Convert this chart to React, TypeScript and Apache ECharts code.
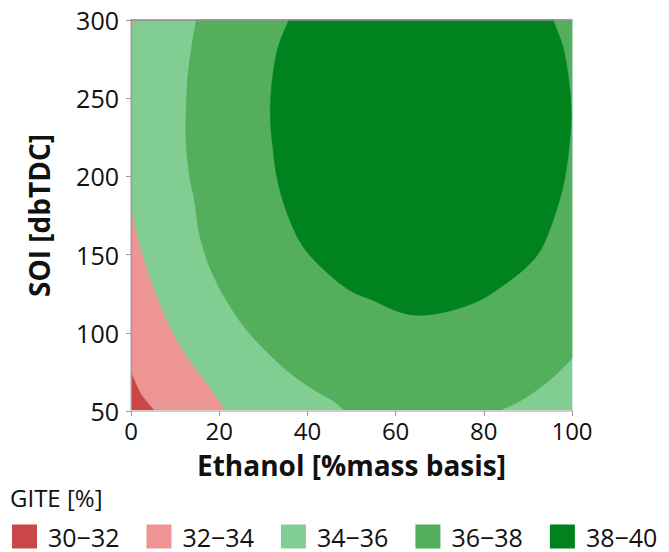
import React, { useEffect, useRef } from "react";
import * as echarts from "echarts";

// Axis ticks
const ethanolTicks = [0, 20, 40, 60, 80, 100];
const soiTicks = [50, 100, 150, 200, 250, 300];

// GITE bands and their fills
const bandNames = ["30−32", "32−34", "34−36", "36−38", "38−40"];
const bandColors = ["#C94747", "#EC9594", "#82CD91", "#53AF5B", "#00821E"];

// Contour edges as [ethanol %, SOI dbTDC]
const edge32 = [[0, 74.5], [2.2, 61.1], [4.9, 51.5], [5.1, 50]];
const edge34 = [
  [0, 180.5], [1.2, 163.5], [3.4, 142.2], [6.1, 120.8], [9.5, 99.5],
  [13.2, 82.4], [17.4, 66.4], [21.1, 51.5], [21.3, 50],
];
const edge34Top = [[0, 300], [0.5, 300], [0, 292]];
const edge36Left = [
  [14.8, 300], [13.9, 285], [12.9, 264], [12.5, 242], [12.5, 221], [13.3, 200],
  [14.4, 185], [15.5, 163.5], [17.8, 142.2], [21.6, 120.8], [26.9, 99.5],
  [34.4, 78.2], [40.5, 65.4], [45.7, 56.8], [48.5, 50],
];
const edge36Right = [[83.2, 50], [86.2, 53.6], [89.7, 58.9], [94.9, 69.6], [100, 83.5]];
const edge38 = [
  [35.8, 300], [33.3, 282], [32.0, 260.5], [31.6, 239], [32.2, 218], [33.3, 196.5],
  [35.6, 175], [38.8, 156], [43.5, 141], [49.6, 127.2], [54.9, 120.8], [60.2, 114],
  [65.4, 111.2], [72.3, 114], [79.1, 120.8], [85.0, 131.5], [89.7, 142.2],
  [93.1, 154], [96.1, 175.2], [98.2, 196.5], [99.3, 218], [99.8, 239],
  [99.3, 260.5], [98.0, 282], [95.7, 300],
];

type Part = { kind: "line" | "curve"; pts: number[][] };

const xMin = ethanolTicks[0];
const xMax = ethanolTicks[ethanolTicks.length - 1];
const yMin = soiTicks[0];
const yMax = soiTicks[soiTicks.length - 1];

// Outlines of each band, in legend order
const bandShapes: Part[][][] = [
  [[{ kind: "curve", pts: edge32 }, { kind: "line", pts: [[xMin, yMin]] }]],
  [
    [{ kind: "curve", pts: edge34 }, { kind: "line", pts: [[xMin, yMin]] }],
    [{ kind: "line", pts: edge34Top }],
  ],
  [[{ kind: "line", pts: [[xMin, yMin], [xMax, yMin], [xMax, yMax], [xMin, yMax]] }]],
  [[
    { kind: "curve", pts: edge36Left },
    { kind: "curve", pts: edge36Right },
    { kind: "line", pts: [[xMax, yMax]] },
  ]],
  [[{ kind: "curve", pts: edge38 }]],
];

// Painting order: background band first
const drawOrder = [2, 1, 0, 3, 4];

function buildPath(parts: Part[], coord: (p: number[]) => number[]): string {
  let d = "";
  let started = false;
  const f = (v: number) => v.toFixed(2);
  for (const part of parts) {
    const pts = part.pts.map(coord);
    if (part.kind === "line") {
      for (const p of pts) {
        d += (started ? "L" : "M") + f(p[0]) + " " + f(p[1]) + " ";
        started = true;
      }
    } else {
      d += (started ? "L" : "M") + f(pts[0][0]) + " " + f(pts[0][1]) + " ";
      started = true;
      for (let i = 0; i < pts.length - 1; i++) {
        const p0 = pts[i - 1] || pts[i];
        const p1 = pts[i];
        const p2 = pts[i + 1];
        const p3 = pts[i + 2] || pts[i + 1];
        const c1 = [p1[0] + (p2[0] - p0[0]) / 6, p1[1] + (p2[1] - p0[1]) / 6];
        const c2 = [p2[0] - (p3[0] - p1[0]) / 6, p2[1] - (p3[1] - p1[1]) / 6];
        d += "C" + f(c1[0]) + " " + f(c1[1]) + " " + f(c2[0]) + " " + f(c2[1]) + " " + f(p2[0]) + " " + f(p2[1]) + " ";
      }
    }
  }
  return d + "Z";
}

const FONT = "'Open Sans', sans-serif";

export default function App() {
  const ref = useRef<HTMLDivElement>(null);

  useEffect(() => {
    if (!ref.current) return;
    const chart = echarts.init(ref.current, undefined, { renderer: "svg" });

    const series = drawOrder.map((b) => ({
      type: "custom" as const,
      name: bandNames[b],
      coordinateSystem: "cartesian2d",
      itemStyle: { color: bandColors[b] },
      data: [[xMin, yMin]],
      silent: true,
      renderItem: (_params: any, api: any) => ({
        type: "group",
        children: bandShapes[b].map((parts) => ({
          type: "path",
          shape: { pathData: buildPath(parts, (p) => api.coord(p)) },
          style: { fill: bandColors[b], stroke: bandColors[b], lineWidth: 0.6 },
        })),
      }),
    }));

    const axisLine = { show: true, lineStyle: { color: "#cdcdcd", width: 2 } };
    const tickStyle = { show: true, length: 5, lineStyle: { color: "#9a9a9a", width: 1 } };

    chart.setOption({
      animation: false,
      textStyle: { fontFamily: FONT },
      grid: { left: 131, top: 20, width: 441, height: 391, containLabel: false },
      title: {
        text: "GITE [%]",
        left: 10,
        top: 483,
        padding: 0,
        textStyle: { fontFamily: FONT, fontSize: 24, fontWeight: "normal", color: "#111", lineHeight: 28 },
      },
      legend: {
        data: bandNames,
        left: 12,
        top: 524,
        icon: "rect",
        itemWidth: 25,
        itemHeight: 24,
        itemGap: 27,
        selectedMode: false,
        padding: 0,
        textStyle: { fontFamily: FONT, fontSize: 25, color: "#111", lineHeight: 24, padding: [0, 0, 0, 6] },
      },
      xAxis: [
        {
          type: "value",
          min: xMin,
          max: xMax,
          interval: ethanolTicks[1] - ethanolTicks[0],
          z: 10,
          name: "Ethanol [%mass basis]",
          nameLocation: "middle",
          nameGap: 40,
          nameTextStyle: { fontFamily: FONT, fontSize: 28, fontWeight: "bold", color: "#111", lineHeight: 28 },
          axisLine,
          axisTick: tickStyle,
          axisLabel: { fontFamily: FONT, fontSize: 24, color: "#111", margin: 7, lineHeight: 24 },
          splitLine: { show: false },
        },
        {
          type: "value",
          position: "top",
          min: xMin,
          max: xMax,
          z: 10,
          axisLine: { show: true, lineStyle: { color: "#8f8f8f", width: 1.5 } },
          axisTick: { show: false },
          axisLabel: { show: false },
          splitLine: { show: false },
        },
      ],
      yAxis: [
        {
          type: "value",
          min: yMin,
          max: yMax,
          interval: soiTicks[1] - soiTicks[0],
          z: 10,
          name: "SOI [dbTDC]",
          nameLocation: "middle",
          nameGap: 78,
          nameTextStyle: { fontFamily: FONT, fontSize: 28, fontWeight: "bold", color: "#111" },
          axisLine,
          axisTick: tickStyle,
          axisLabel: { fontFamily: FONT, fontSize: 25, color: "#111", margin: 12 },
          splitLine: { show: false },
        },
        {
          type: "value",
          position: "right",
          min: yMin,
          max: yMax,
          z: 10,
          axisLine: { show: true, lineStyle: { color: "#9a9a9a", width: 1 } },
          axisTick: { show: false },
          axisLabel: { show: false },
          splitLine: { show: false },
        },
      ],
      series,
    });

    return () => chart.dispose();
  }, []);

  return (
    <div
      ref={ref}
      style={{ position: "fixed", left: 0, top: 0, width: 669, height: 552, background: "#fff" }}
    />
  );
}
